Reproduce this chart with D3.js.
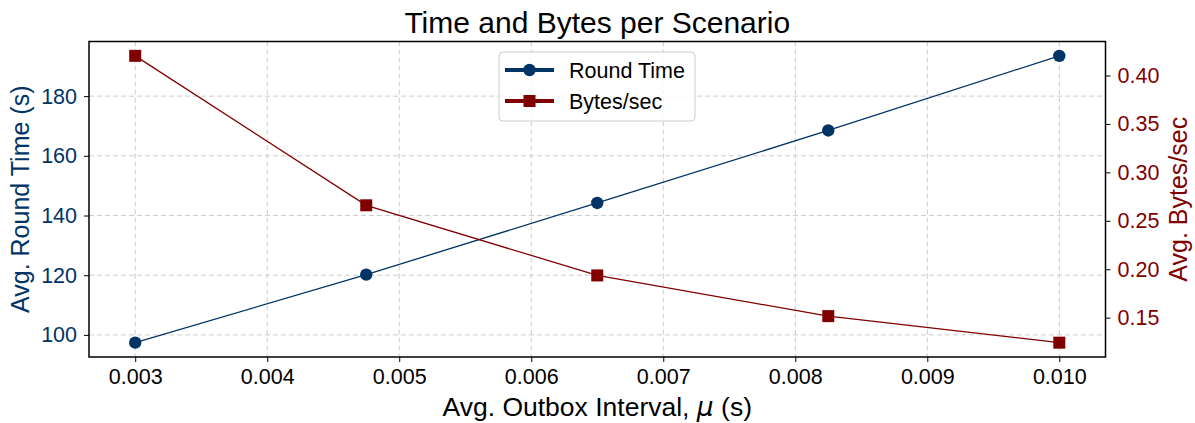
<!DOCTYPE html>
<html>
<head>
<meta charset="utf-8">
<script src="https://cdn.jsdelivr.net/npm/d3@7"></script>
<style>
  body { margin: 0; background: #fff; }
  svg { font-family: "Liberation Sans", Arial, sans-serif; }
</style>
</head>
<body>
<svg id="chart" width="1195" height="423"></svg>
<script>
const intervals = [0.003, 0.00475, 0.0065, 0.00825, 0.010];
const roundTimes = [97.4, 120.2, 144.2, 168.5, 193.5];
const bytesPerSec = [0.4203, 0.2660, 0.1936, 0.1516, 0.1242];
const xTicks = [0.003, 0.004, 0.005, 0.006, 0.007, 0.008, 0.009, 0.010];
const leftTicks = [100, 120, 140, 160, 180];
const rightTicks = [0.15, 0.20, 0.25, 0.30, 0.35, 0.40];

const blue = "#003366";
const red = "#800000";

const svg = d3.select("#chart");
const margin = { top: 41.5, right: 89.5, bottom: 66, left: 89 };
const width = 1195, height = 423;

// matplotlib-style 5% margins
const pad = (ext) => { const r = ext[1] - ext[0]; return [ext[0] - r * 0.05, ext[1] + r * 0.05]; };

const x = d3.scaleLinear()
    .domain(pad(d3.extent(intervals)))
    .range([margin.left, width - margin.right]);

const yL = d3.scaleLinear()
    .domain(pad(d3.extent(roundTimes)))
    .range([height - margin.bottom, margin.top]);

const yR = d3.scaleLinear()
    .domain(pad(d3.extent(bytesPerSec)))
    .range([height - margin.bottom, margin.top]);

// grid
const grid = svg.append("g")
    .attr("stroke", "#cccccc")
    .attr("stroke-width", 1)
    .attr("stroke-dasharray", "5,3");
grid.selectAll(".gx").data(xTicks).enter().append("line")
    .attr("x1", d => x(d)).attr("x2", d => x(d))
    .attr("y1", margin.top).attr("y2", height - margin.bottom);
grid.selectAll(".gy").data(leftTicks).enter().append("line")
    .attr("x1", margin.left).attr("x2", width - margin.right)
    .attr("y1", d => yL(d)).attr("y2", d => yL(d));

// axes
const styleAxis = (g, color) => {
    g.select(".domain").remove();
    g.selectAll(".tick line").attr("stroke", "#000").attr("stroke-width", 1);
    g.selectAll(".tick text")
        .attr("fill", color)
        .style("font-size", "21.5px")
        .style("font-family", "'Liberation Sans', Arial, sans-serif");
};

svg.append("g")
    .attr("transform", `translate(0,${height - margin.bottom})`)
    .call(d3.axisBottom(x).tickValues(xTicks).tickFormat(d3.format(".3f")).tickSize(5).tickPadding(7))
    .call(g => styleAxis(g, "#000"));

svg.append("g")
    .attr("transform", `translate(${margin.left},0)`)
    .call(d3.axisLeft(yL).tickValues(leftTicks).tickFormat(d3.format("d")).tickSize(5).tickPadding(7))
    .call(g => styleAxis(g, blue));

svg.append("g")
    .attr("transform", `translate(${width - margin.right},0)`)
    .call(d3.axisRight(yR).tickValues(rightTicks).tickFormat(d3.format(".2f")).tickSize(5).tickPadding(7))
    .call(g => styleAxis(g, red));

// lines
const lineL = d3.line().x((d, i) => x(intervals[i])).y(d => yL(d));
const lineR = d3.line().x((d, i) => x(intervals[i])).y(d => yR(d));

svg.append("path").datum(roundTimes)
    .attr("fill", "none").attr("stroke", blue).attr("stroke-width", 1.3)
    .attr("d", lineL);
svg.append("path").datum(bytesPerSec)
    .attr("fill", "none").attr("stroke", red).attr("stroke-width", 1.3)
    .attr("d", lineR);

svg.selectAll(".dotL").data(roundTimes).enter().append("circle")
    .attr("cx", (d, i) => x(intervals[i]))
    .attr("cy", d => yL(d))
    .attr("r", 6.2)
    .attr("fill", blue);

svg.selectAll(".sqR").data(bytesPerSec).enter().append("rect")
    .attr("x", (d, i) => x(intervals[i]) - 6)
    .attr("y", d => yR(d) - 6)
    .attr("width", 12).attr("height", 12)
    .attr("fill", red);

// frame
svg.append("rect")
    .attr("x", margin.left).attr("y", margin.top)
    .attr("width", width - margin.left - margin.right)
    .attr("height", height - margin.top - margin.bottom)
    .attr("fill", "none").attr("stroke", "#000").attr("stroke-width", 1.5);

// title
svg.append("text")
    .attr("x", (margin.left + width - margin.right) / 2)
    .attr("y", 33)
    .attr("text-anchor", "middle")
    .style("font-size", "30px")
    .text("Time and Bytes per Scenario");

// axis labels
const xl = svg.append("text")
    .attr("x", (margin.left + width - margin.right) / 2)
    .attr("y", 416)
    .attr("text-anchor", "middle")
    .style("font-size", "26.5px");
xl.append("tspan").text("Avg. Outbox Interval, ");
xl.append("tspan").style("font-style", "italic").attr("font-family", "'DejaVu Sans', sans-serif").text("μ");
xl.append("tspan").text(" (s)");

svg.append("text")
    .attr("transform", `translate(29,${(margin.top + height - margin.bottom) / 2}) rotate(-90)`)
    .attr("text-anchor", "middle")
    .attr("fill", blue)
    .style("font-size", "25px")
    .text("Avg. Round Time (s)");

svg.append("text")
    .attr("transform", `translate(1187,${(margin.top + height - margin.bottom) / 2}) rotate(-90)`)
    .attr("text-anchor", "middle")
    .attr("fill", red)
    .style("font-size", "25px")
    .text("Avg. Bytes/sec");

// legend
const legend = svg.append("g").attr("transform", "translate(499,52)");
legend.append("rect")
    .attr("width", 196).attr("height", 69).attr("rx", 4)
    .attr("fill", "#fff").attr("fill-opacity", 0.8)
    .attr("stroke", "#cccccc").attr("stroke-width", 1);

const items = [
    { name: "Round Time", color: blue, shape: "circle" },
    { name: "Bytes/sec", color: red, shape: "square" }
];
items.forEach((it, i) => {
    const g = legend.append("g").attr("transform", `translate(0,${18 + i * 31})`);
    g.append("line").attr("x1", 6).attr("x2", 55)
        .attr("stroke", it.color).attr("stroke-width", 4);
    if (it.shape === "circle") {
        g.append("circle").attr("cx", 30.5).attr("r", 6.2).attr("fill", it.color);
    } else {
        g.append("rect").attr("x", 24.5).attr("y", -6).attr("width", 12).attr("height", 12).attr("fill", it.color);
    }
    g.append("text").attr("x", 70).attr("y", 8)
        .style("font-size", "21.5px")
        .text(it.name);
});
</script>
</body>
</html>
